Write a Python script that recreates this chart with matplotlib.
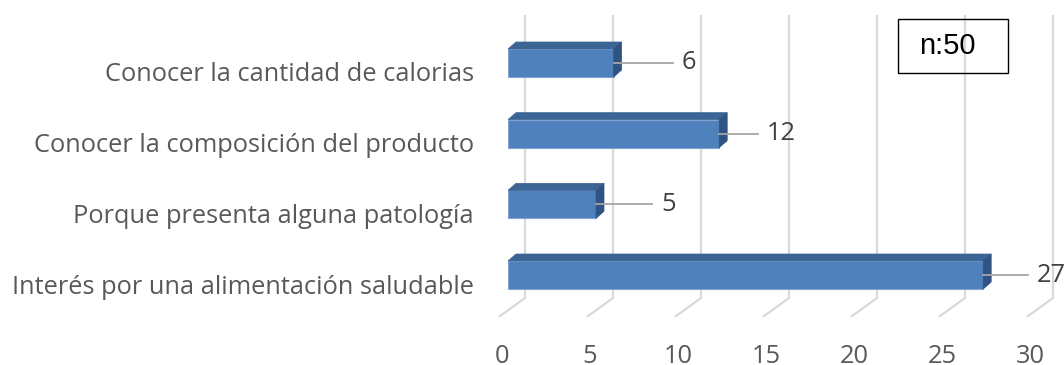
import numpy as np
import matplotlib.pyplot as plt
from matplotlib.patches import Polygon, Rectangle
from matplotlib.transforms import ScaledTranslation

plt.rcParams['font.family'] = ['Open Sans', 'DejaVu Sans']

# categories listed top to bottom
categories = [
    "Conocer la cantidad de calorias",
    "Conocer la composición del producto",
    "Porque presenta alguna patología",
    "Interés por una alimentación saludable",
]
values = [6, 12, 5, 27]
x_ticks = [0, 5, 10, 15, 20, 25, 30]
sample_label = "n:50"

# length of each data-label leader line, in pixels
leader_px = [59, 39, 56, 45]

W, H, DPI = 1064, 365, 100
px_x = 17.6    # pixels per unit on the value axis
px_y = 70.67   # pixels per category slot
FS = 18.3

face = "#4f81bd"
top_face = "#3c6494"
side_face = "#2f5483"
grid_col = "#d9d9d9"

fig = plt.figure(figsize=(W / DPI, H / DPI), dpi=DPI)
ax = fig.add_axes([508 / W, 49 / H, 30 * px_x / W, (350 - 49) / H])
ax.set_xlim(0, 30)
y0, y1 = -(90 - 49) / px_y, (350 - 90) / px_y
ax.set_ylim(y0, y1)
for s in ax.spines.values():
    s.set_visible(False)

# 3-D geometry (converted from pixels to data units)
dx, dy = 8 / px_x, 7 / px_y          # bar depth
bar_h = 28 / px_y
back_x, back_y = 17 / px_x, (67 - 90) / px_y   # back wall offset
floor_x = -8 / px_x                  # front edge of the floor

# back wall gridlines plus the floor diagonals
for t in x_ticks:
    ax.plot([t + back_x, t + back_x], [back_y, y1], color=grid_col, lw=1.6,
            clip_on=False, zorder=1, solid_capstyle="butt")
    ax.plot([t + floor_x, t + back_x], [y0, back_y], color=grid_col, lw=1.6,
            clip_on=False, zorder=1)

pos = np.arange(len(values))[::-1]
for y, v, lead in zip(pos, values, leader_px):
    lo, hi = y - bar_h / 2, y + bar_h / 2
    ax.add_patch(Rectangle((0, lo), v, bar_h, facecolor=face,
                           edgecolor="#7fa3d3", lw=0.8, zorder=3))
    ax.add_patch(Polygon([(0, hi), (v, hi), (v + dx, hi + dy), (dx, hi + dy)],
                         closed=True, facecolor=top_face, edgecolor=top_face,
                         lw=0.5, zorder=3))
    ax.add_patch(Polygon([(v, lo), (v, hi), (v + dx, hi + dy), (v + dx, lo + dy)],
                         closed=True, facecolor=side_face, edgecolor=side_face,
                         lw=0.5, zorder=3))
    # leader line and value label
    ax.plot([v, v + lead / px_x], [y, y], color="#a6a6a6", lw=1.3, zorder=4,
            clip_on=False)
    ax.text(v + (lead + 9) / px_x, y, str(v), ha="left", va="center",
            fontsize=FS, color="#404040", clip_on=False, zorder=4)

ax.set_yticks(pos, categories)
ax.tick_params(axis="y", length=0, pad=24.5, labelsize=FS, labelcolor="#595959")
for lab in ax.get_yticklabels():
    lab.set_transform(lab.get_transform() + ScaledTranslation(0, -0.09, fig.dpi_scale_trans))

ax.set_xticks(x_ticks)
ax.tick_params(axis="x", length=0, pad=20, labelsize=FS, labelcolor="#595959")
for lab in ax.get_xticklabels():
    lab.set_transform(lab.get_transform() + ScaledTranslation(-0.06, 0, fig.dpi_scale_trans))

# sample size box
fig.patches.append(Rectangle((898 / W, (365 - 73) / H), 110 / W, 54 / H,
                             transform=fig.transFigure, fill=False,
                             edgecolor="black", lw=1.0))
fig.text(947 / W, (365 - 46) / H, sample_label, ha="center", va="center",
         family="Liberation Sans", fontsize=21, color="black")

fig.savefig("out.png", dpi=DPI)
